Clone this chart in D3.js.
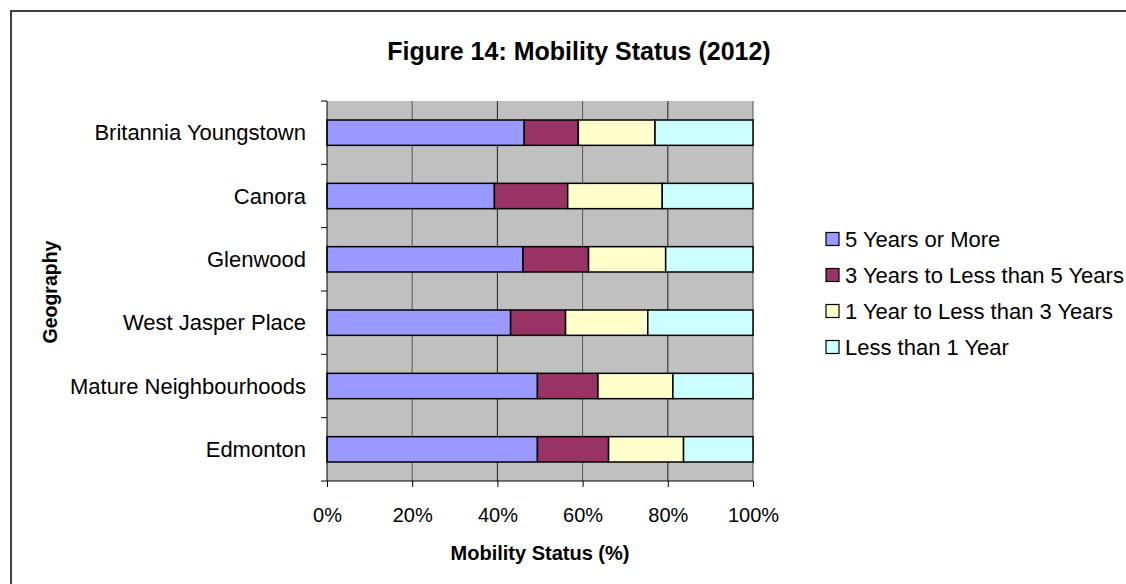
<!DOCTYPE html>
<html>
<head>
<meta charset="utf-8">
<script src="https://cdn.jsdelivr.net/npm/d3@7"></script>
<style>
  body { margin: 0; background: #fff; }
  svg { display: block; font-family: "Liberation Sans", Arial, sans-serif; }
</style>
</head>
<body>
<div class="chart"></div>
<script>
var geographies = ["Britannia Youngstown", "Canora", "Glenwood", "West Jasper Place", "Mature Neighbourhoods", "Edmonton"];
var seriesNames = ["5 Years or More", "3 Years to Less than 5 Years", "1 Year to Less than 3 Years", "Less than 1 Year"];
var fiveYears  = [46.3, 39.3, 46.0, 43.1, 49.4, 49.4];
var threeYears = [12.7, 17.2, 15.4, 12.9, 14.2, 16.7];
var oneYear    = [18.0, 22.2, 18.1, 19.3, 17.6, 17.6];
var underOne   = [23.0, 21.3, 20.5, 24.7, 18.8, 16.3];
var xTicks = [0, 20, 40, 60, 80, 100];

(function() {
  var width = 1126, height = 584;
  var plot = { left: 327, top: 101, right: 753, bottom: 481 };
  var colors = ["#9999FF", "#993366", "#FFFFCC", "#CCFFFF"];

  var svg = d3.select(".chart").append("svg")
    .attr("width", width)
    .attr("height", height);

  // outer frame
  svg.append("rect")
    .attr("x", 11).attr("y", 11)
    .attr("width", width + 20).attr("height", height + 20)
    .attr("fill", "#fff")
    .attr("stroke", "#404040")
    .attr("stroke-width", 2);

  svg.append("text")
    .attr("x", 579).attr("y", 60)
    .attr("text-anchor", "middle")
    .style("font-size", "25px")
    .style("font-weight", "bold")
    .text("Figure 14: Mobility Status (2012)");

  var x = d3.scaleLinear().domain([0, 100]).range([plot.left, plot.right]);
  var y = d3.scaleBand().domain(geographies).range([plot.top, plot.bottom]).paddingInner(0.6).paddingOuter(0.3);

  // grey plot area
  svg.append("rect")
    .attr("x", plot.left).attr("y", plot.top)
    .attr("width", plot.right - plot.left).attr("height", plot.bottom - plot.top)
    .attr("fill", "#C0C0C0");

  // vertical gridlines
  svg.append("g").selectAll("line")
    .data(xTicks.slice(1))
    .enter().append("line")
      .attr("x1", function(d) { return x(d); })
      .attr("x2", function(d) { return x(d); })
      .attr("y1", plot.top).attr("y2", plot.bottom)
      .attr("stroke", function(d, i) { return i % 2 ? "#202020" : "#555"; })
      .attr("stroke-width", 1);

  // stacked data
  var rows = geographies.map(function(g, i) {
    return { geo: g, s0: fiveYears[i], s1: threeYears[i], s2: oneYear[i], s3: underOne[i] };
  });
  var stack = d3.stack().keys(["s0", "s1", "s2", "s3"])(rows);

  svg.append("g").selectAll("g")
    .data(stack)
    .enter().append("g")
      .attr("fill", function(d, i) { return colors[i]; })
    .selectAll("rect")
      .data(function(d) { return d; })
    .enter().append("rect")
      .attr("x", function(d) { return x(d[0]); })
      .attr("y", function(d) { return y(d.data.geo); })
      .attr("width", function(d) { return x(d[1]) - x(d[0]); })
      .attr("height", y.bandwidth())
      .attr("stroke", "#000")
      .attr("stroke-width", 1.5);

  // x axis
  var xAxis = svg.append("g")
    .attr("transform", "translate(0," + plot.bottom + ")")
    .call(d3.axisBottom(x).tickValues(xTicks).tickSize(6).tickFormat(function(d) { return d + "%"; }));
  xAxis.select(".domain").attr("d", "M" + (plot.left - 6) + ",0H" + plot.right).attr("stroke", "#000");
  xAxis.selectAll("line").attr("stroke", "#000");
  xAxis.selectAll("text")
    .attr("y", 41).attr("dy", 0)
    .attr("fill", "#000")
    .attr("font-family", "Liberation Sans, Arial, sans-serif")
    .style("font-size", "20px");

  // y axis: ticks at band boundaries
  var step = (plot.bottom - plot.top) / geographies.length;
  var yAx = svg.append("g");
  yAx.append("line")
    .attr("x1", plot.left).attr("x2", plot.left)
    .attr("y1", plot.top).attr("y2", plot.bottom)
    .attr("stroke", "#000");
  yAx.selectAll("line.tick")
    .data(d3.range(geographies.length))
    .enter().append("line")
      .attr("class", "tick")
      .attr("x1", plot.left - 6).attr("x2", plot.left)
      .attr("y1", function(i) { return plot.top + i * step; })
      .attr("y2", function(i) { return plot.top + i * step; })
      .attr("stroke", "#000");
  yAx.selectAll("text")
    .data(geographies)
    .enter().append("text")
      .attr("x", 306)
      .attr("y", function(d) { return y(d) + y.bandwidth() / 2; })
      .attr("dy", "0.35em")
      .attr("text-anchor", "end")
      .style("font-size", "22px")
      .text(function(d) { return d; });

  // axis titles
  svg.append("text")
    .attr("x", 540).attr("y", 560)
    .attr("text-anchor", "middle")
    .style("font-size", "20px")
    .style("font-weight", "bold")
    .text("Mobility Status (%)");
  svg.append("text")
    .attr("transform", "translate(57,292) rotate(-90)")
    .attr("text-anchor", "middle")
    .style("font-size", "19.5px")
    .style("font-weight", "bold")
    .text("Geography");

  // legend
  var legend = svg.append("g").selectAll("g")
    .data(seriesNames)
    .enter().append("g")
      .attr("transform", function(d, i) { return "translate(826," + (239 + i * 36) + ")"; });
  legend.append("rect")
    .attr("x", 0).attr("y", -6.5)
    .attr("width", 13).attr("height", 13)
    .attr("fill", function(d, i) { return colors[i]; })
    .attr("stroke", "#000")
    .attr("stroke-width", 1.2);
  legend.append("text")
    .attr("x", 19).attr("dy", "0.35em")
    .style("font-size", "22px")
    .text(function(d) { return d; });
})();
</script>
</body>
</html>
